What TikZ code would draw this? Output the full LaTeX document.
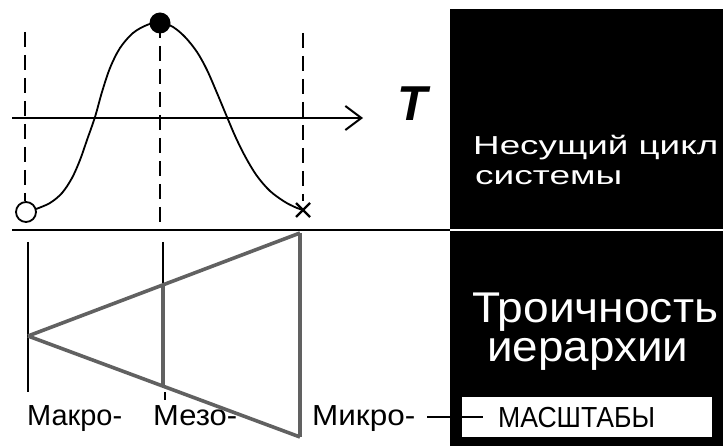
\documentclass[tikz,border=0pt]{standalone}
\usepackage{fontspec}
\setmainfont{Liberation Sans}
\usetikzlibrary{arrows.meta,calc}
\newcommand\fitw[3]{\resizebox{#1pt}{\height}{\fontsize{#2}{#2}\selectfont #3}}
\begin{document}
\begin{tikzpicture}[x=1pt,y=-1pt,
  dashv/.style={line width=2.6pt, dash pattern=on 15pt off 8pt},
  solidl/.style={line width=2.4pt},
  curvel/.style={line width=1.8pt},
  checker/.style={line width=3.6pt, black!62},
  lbl/.style={inner sep=0pt, anchor=base west},
  wlbl/.style={lbl, text=white}]
\useasboundingbox (0,0) rectangle (723,446);
\fill[white] (0,0) rectangle (723,446);
% right panel
\fill[black] (450,9) rectangle (723,446);
\coordinate (wl1) at (450,230);
\coordinate (wl2) at (723,230);
\draw[white, line width=2.4pt] (wl1) -- (wl2);
\fill[white] (462,397) rectangle (712,437);
% divider line
\coordinate (dl1) at (12,230);
\draw[solidl] (dl1) -- (wl1);
% axis
\coordinate (ax1) at (12,118);
\coordinate (ax2) at (363,118);
\draw[solidl, -{Straight Barb[length=16pt, width=24pt, line width=2pt]}] (ax1) -- (ax2);
% dashed verticals
\coordinate (d1t) at (25,32);  \coordinate (d1b) at (25,201);
\coordinate (d2t) at (160,23); \coordinate (d2b) at (160,223);
\coordinate (d3t) at (303,33); \coordinate (d3b) at (303,201);
\draw[dashv] (d1t) -- (d1b);
\draw[dashv] (d2t) -- (d2b);
\draw[dashv] (d3t) -- (d3b);
% curve
\draw[curvel] plot[smooth, tension=0.55] coordinates {
 (36,209) (50,203) (62,193) (72,178) (80,160) (87,140) (95,117) (102,92)
 (110,68) (120,48) (133,33) (147,25) (160,22) (173,27) (185,37) (197,52)
 (207,70) (217,93) (227,117) (236,138) (246,158) (257,176) (270,191)
 (285,202) (297,208) (303,210)};
% markers
\node[circle, draw, line width=1.8pt, fill=white, minimum size=20pt, inner sep=0pt] (ocirc) at (26,212) {};
\node[circle, fill=black, minimum size=21pt, inner sep=0pt] (peak) at (160,23) {};
\coordinate (xc) at (303,210);
\draw[line width=2.2pt] ($(xc)+(-7,-7)$) -- ($(xc)+(7,7)$) ($(xc)+(-7,7)$) -- ($(xc)+(7,-7)$);
\node[lbl] (T) at (397,121) {\fontsize{49}{49}\selectfont\bfseries\itshape T};
% lower section
\coordinate (A) at (28,336);
\coordinate (U) at (300,233);
\coordinate (D) at (300,437);
\coordinate (MU) at (163,285);
\coordinate (MD) at (163,385);
\coordinate (L1) at (28,242);
\coordinate (L2) at (28,392);
\coordinate (M1) at (163,242);
\coordinate (tk1) at (165,392);
\coordinate (tk2) at (165,400);
\draw[solidl] (L1) -- (L2);
\draw[solidl] (M1) -- (MU);
\draw[solidl] (tk1) -- (tk2);
\draw[checker] (A) -- (U);
\draw[checker] (A) -- (D);
\draw[checker] (U) -- (D);
\draw[checker] (MU) -- (MD);
% labels
\node[lbl] (makro) at (27,425) {\fitw{95}{29}{Макро-}};
\node[lbl] (mezo) at (153,425) {\fitw{84}{29}{Мезо-}};
\node[lbl] (mikro) at (312,425) {\fitw{103}{29}{Микро-}};
\node[lbl] (masht) at (498,427.5) {\fitw{157}{29}{МАСШТАБЫ}};
\coordinate (mk) at (427,417);
\coordinate (bx) at (483,417);
\draw[line width=1.8pt] (mk) -- (bx);
% right texts
\node[wlbl] (nes) at (473,155) {\fitw{245}{26}{Несущий цикл}};
\node[wlbl] (sys) at (475,185) {\fitw{147}{26}{системы}};
\node[wlbl] (tro) at (472,323) {\fitw{246}{43}{Троичность}};
\node[wlbl] (ier) at (487,362) {\fitw{201}{43}{иерархии}};
\end{tikzpicture}
\end{document}
